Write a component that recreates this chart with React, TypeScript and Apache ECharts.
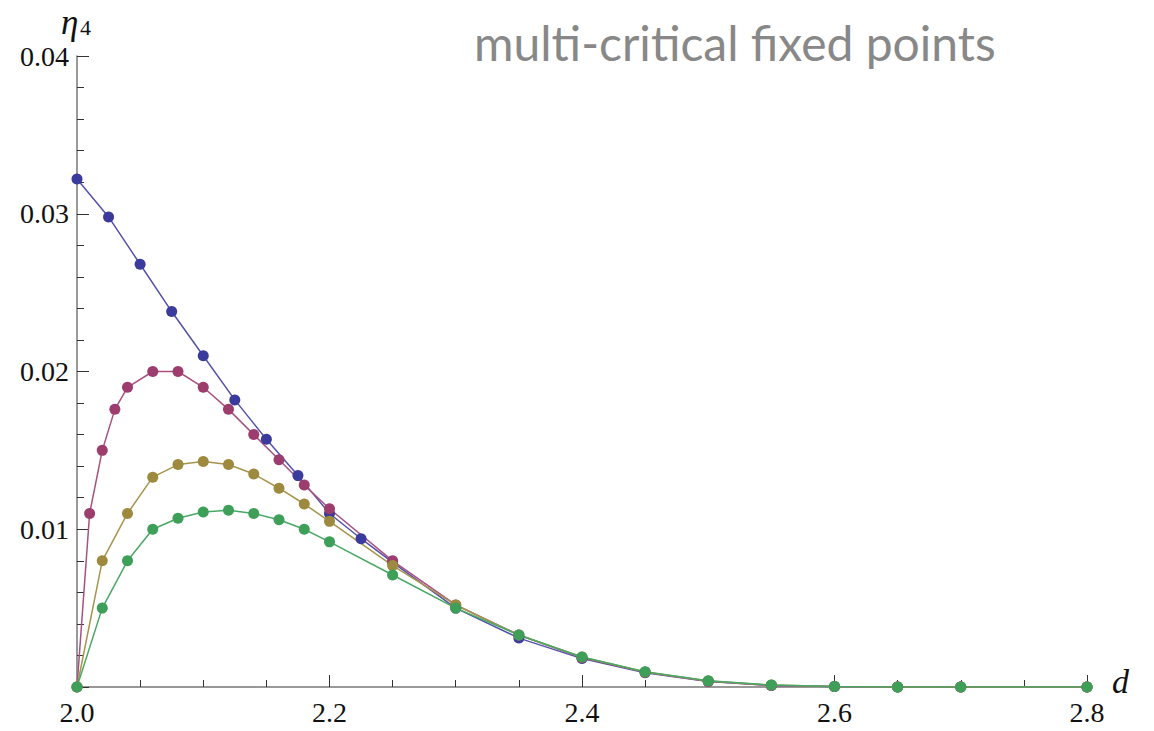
import React, { useEffect, useRef } from "react";
import * as echarts from "echarts";

const blueX = [2.0, 2.025, 2.05, 2.075, 2.1, 2.125, 2.15, 2.175, 2.2, 2.225, 2.25, 2.3, 2.35, 2.4, 2.45, 2.5, 2.55, 2.6, 2.65, 2.7, 2.8];
const blueY = [0.0322, 0.0298, 0.0268, 0.0238, 0.021, 0.0182, 0.0157, 0.0134, 0.011, 0.0094, 0.0079, 0.005, 0.0031, 0.0018, 0.0009, 0.00035, 0.0001, 0.00003, 0, 0, 0];

const magentaX = [2.0, 2.01, 2.02, 2.03, 2.04, 2.06, 2.08, 2.1, 2.12, 2.14, 2.16, 2.18, 2.2, 2.25, 2.3, 2.35, 2.4, 2.45, 2.5, 2.55, 2.6, 2.65, 2.7, 2.8];
const magentaY = [0, 0.011, 0.015, 0.0176, 0.019, 0.02, 0.02, 0.019, 0.0176, 0.016, 0.0144, 0.0128, 0.0113, 0.008, 0.0052, 0.0033, 0.00185, 0.00093, 0.00037, 0.0001, 0.00003, 0, 0, 0];

const goldX = [2.0, 2.02, 2.04, 2.06, 2.08, 2.1, 2.12, 2.14, 2.16, 2.18, 2.2, 2.25, 2.3, 2.35, 2.4, 2.45, 2.5, 2.55, 2.6, 2.65, 2.7, 2.8];
const goldY = [0, 0.008, 0.011, 0.0133, 0.0141, 0.0143, 0.0141, 0.0135, 0.0126, 0.0116, 0.0105, 0.0077, 0.0052, 0.0033, 0.0019, 0.00095, 0.00038, 0.00012, 0.00003, 0, 0, 0];

const greenX = [2.0, 2.02, 2.04, 2.06, 2.08, 2.1, 2.12, 2.14, 2.16, 2.18, 2.2, 2.25, 2.3, 2.35, 2.4, 2.45, 2.5, 2.55, 2.6, 2.65, 2.7, 2.8];
const greenY = [0, 0.005, 0.008, 0.01, 0.0107, 0.0111, 0.0112, 0.011, 0.0106, 0.01, 0.0092, 0.0071, 0.005, 0.0033, 0.0019, 0.00097, 0.0004, 0.00012, 0.00003, 0, 0, 0];

const titleText = "multi-critical fixed points";

const zip = (xs: number[], ys: number[]) => xs.map((x, i) => [x, ys[i]]);

function mkSeries(name: string, xs: number[], ys: number[], pointColor: string, lineColor: string) {
  return {
    name,
    type: "line",
    data: zip(xs, ys),
    symbol: "circle",
    symbolSize: 11,
    itemStyle: { color: pointColor },
    lineStyle: { color: lineColor, width: 1.5 },
    z: 3,
  };
}

export default function App() {
  const ref = useRef<HTMLDivElement>(null);
  useEffect(() => {
    if (!ref.current) return;
    const chart = echarts.init(ref.current, undefined, { renderer: "svg" });
    const tickFont = { fontFamily: "Liberation Serif", fontSize: 28, color: "#111" };
    chart.setOption({
      animation: false,
      backgroundColor: "#ffffff",
      grid: { left: 77, right: 67, top: 56, bottom: 44, containLabel: false },
      xAxis: {
        type: "value",
        min: 2.0,
        max: 2.8,
        interval: 0.2,
        axisLine: { show: true, onZero: false, lineStyle: { color: "#777", width: 1.5 } },
        axisTick: { show: true, inside: true, length: 12, lineStyle: { color: "#333", width: 1 } },
        minorTick: { show: true, splitNumber: 4, length: 7, lineStyle: { color: "#333", width: 1 } },
        splitLine: { show: false },
        axisLabel: { ...tickFont, margin: 11, formatter: (v: number) => v.toFixed(1) },
      },
      yAxis: {
        type: "value",
        min: 0,
        max: 0.04,
        interval: 0.01,
        axisLine: { show: true, onZero: false, lineStyle: { color: "#777", width: 1.5 } },
        axisTick: { show: true, inside: true, length: 12, lineStyle: { color: "#333", width: 1 } },
        minorTick: { show: true, splitNumber: 5, length: 7, lineStyle: { color: "#333", width: 1 } },
        splitLine: { show: false },
        axisLabel: { ...tickFont, margin: 8, formatter: (v: number) => (v === 0 ? "" : v.toFixed(2)) },
      },
      graphic: [
        { type: "text", left: 474, top: 18, style: { text: titleText, font: "48px Lato", fill: "#888888" } },
        { type: "text", left: 61, top: 5, style: { text: "η", font: "italic 35px 'Liberation Serif'", fill: "#111" } },
        { type: "text", left: 80, top: 16, style: { text: "4", font: "22px 'Liberation Serif'", fill: "#111" } },
        { type: "text", left: 1112, top: 664, style: { text: "d", font: "italic 34px 'Liberation Serif'", fill: "#111" } },
      ],
      series: [
        mkSeries("blue", blueX, blueY, "#3b3b9d", "#5252aa"),
        mkSeries("magenta", magentaX, magentaY, "#9c3d6e", "#a8517f"),
        mkSeries("gold", goldX, goldY, "#9e8a3e", "#a6944c"),
        mkSeries("green", greenX, greenY, "#3d9f58", "#4aa865"),
      ],
    });
    return () => chart.dispose();
  }, []);
  return <div ref={ref} style={{ position: "fixed", left: 0, top: 0, width: 1154, height: 731 }} />;
}
